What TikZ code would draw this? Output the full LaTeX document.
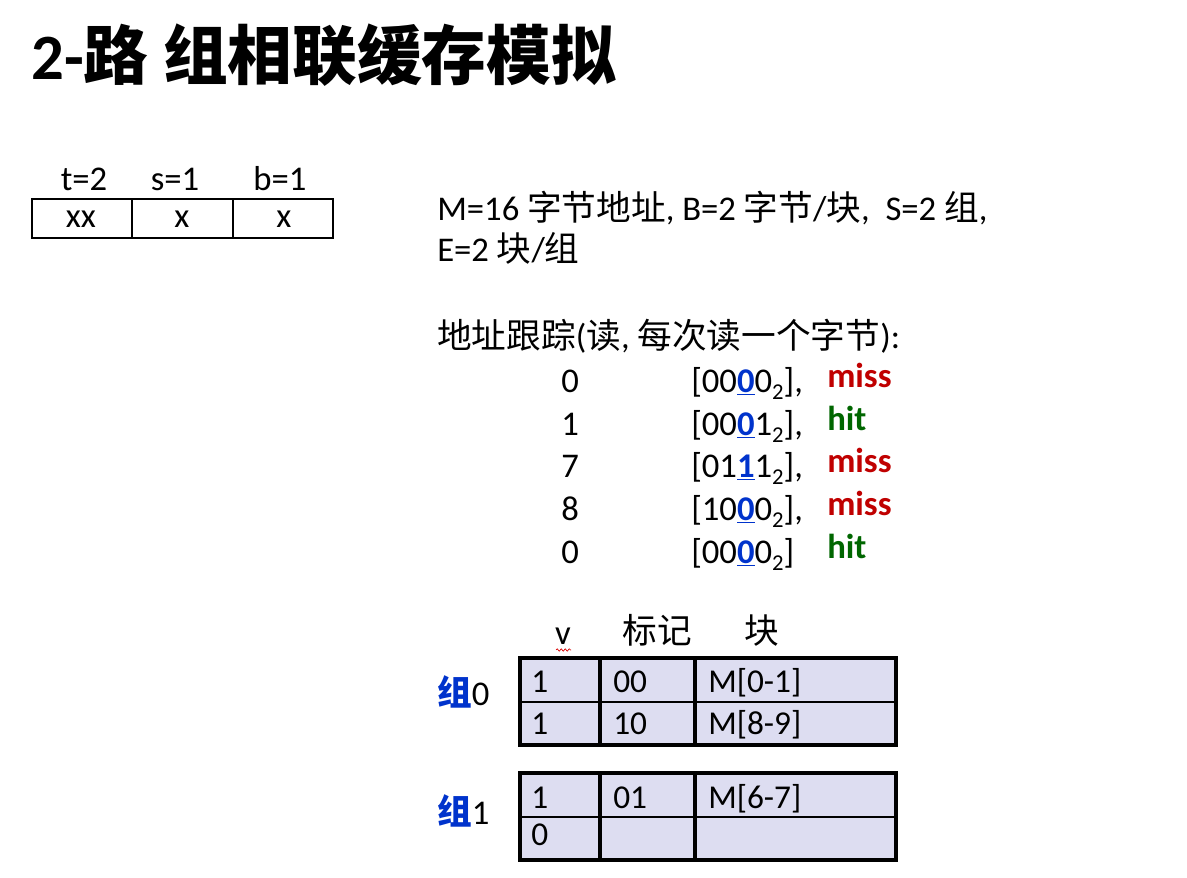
\documentclass[tikz,border=0pt]{standalone}
\usepackage{fontspec}
\setmainfont{Carlito}
\newfontfamily\cjk{Noto Sans CJK SC}
\usetikzlibrary{decorations.pathmorphing}
\definecolor{cellfill}{RGB}{221,221,241}
\definecolor{hiblue}{RGB}{0,51,204}
\definecolor{missred}{RGB}{192,0,0}
\definecolor{hitgreen}{RGB}{0,102,0}
\newcommand{\zh}[1]{{\cjk #1}}
\newcommand{\sbtwo}{\raisebox{-0.22em}{\fontsize{17}{17}\selectfont 2}}
\newcommand{\hb}[1]{\textcolor{hiblue}{\underline{\textbf{#1}}}}
\tikzset{
  txt/.style={anchor=base west, inner sep=0pt, font=\fontsize{26}{31}\selectfont},
  ctxt/.style={anchor=base, inner sep=0pt, font=\fontsize{26}{31}\selectfont},
  celltxt/.style={anchor=base west, inner sep=0pt, font=\fontsize{25}{30}\selectfont},
  titletxt/.style={anchor=base west, inner sep=0pt, font=\fontsize{48.5}{56}\selectfont\bfseries},
  boxline/.style={line width=1.6pt},
  thickline/.style={line width=2.3pt},
  thinline/.style={line width=1.3pt},
  missst/.style={txt, font=\fontsize{26}{31}\selectfont\bfseries, text=missred},
  hitst/.style={txt, font=\fontsize{26}{31}\selectfont\bfseries, text=hitgreen}
}
\begin{document}
\begin{tikzpicture}[x=0.75pt, y=-0.75pt]
\useasboundingbox (0,0) rectangle (1187,877);
\fill[white] (0,0) rectangle (1187,877);

% title
\node[titletxt] (title) at (31,80) {2-\zh{路} \zh{组相联缓存模拟}};

% address format box
\node[ctxt] (lt) at (84,191) {t=2};
\node[ctxt] (ls) at (175,191) {s=1};
\node[ctxt] (lb) at (280,191) {b=1};
\draw[boxline] (32,199) rectangle (333,238);
\draw[boxline] (132,199) -- (132,238);
\draw[boxline] (233,199) -- (233,238);
\node[ctxt] (ft) at (81,228) {xx};
\node[ctxt] (fs) at (182,228) {x};
\node[ctxt] (fb) at (284,228) {x};

% parameters
\node[txt] (p1) at (437,221) {M=16 \zh{字节地址}, B=2 \zh{字节}/\zh{块},\ \ S=2 \zh{组},};
\node[txt] (p2) at (437,261) {E=2 \zh{块}/\zh{组}};

\node[txt] (tr) at (437,348) {\zh{地址跟踪}(\zh{读}, \zh{每次读一个字节}):};

% trace
\node[txt] (a0) at (561,392) {0};
\node[txt] (b0) at (691,392) {[00\hb{0}0\sbtwo],};
\node[missst] (r0) at (827,387) {miss};
\node[txt] (a1) at (561,435) {1};
\node[txt] (b1) at (691,435) {[00\hb{0}1\sbtwo],};
\node[hitst] (r1) at (827,430) {hit};
\node[txt] (a2) at (561,477) {7};
\node[txt] (b2) at (691,477) {[01\hb{1}1\sbtwo],};
\node[missst] (r2) at (827,472) {miss};
\node[txt] (a3) at (561,520) {8};
\node[txt] (b3) at (691,520) {[10\hb{0}0\sbtwo],};
\node[missst] (r3) at (827,515) {miss};
\node[txt] (a4) at (561,563) {0};
\node[txt] (b4) at (691,563) {[00\hb{0}0\sbtwo]};
\node[hitst] (r4) at (827,558) {hit};

% headers
\node[ctxt] (hv) at (563,644) {v};
\draw[red!85!black, line width=0.5pt, decorate, decoration={snake, amplitude=0.9pt, segment length=3pt}] (556,650) -- (571,650);
\node[ctxt] (htag) at (657,643) {\zh{标记}};
\node[ctxt] (hblk) at (762,643) {\zh{块}};

% set labels
\node[txt] (s0) at (437,705) {\textcolor{hiblue}{\bfseries\zh{组}}0};
\node[txt] (s1) at (437,824) {\textcolor{hiblue}{\bfseries\zh{组}}1};

% set 0 table
\fill[cellfill] (520,658) rectangle (896,745);
\draw[thinline] (520,702) -- (896,702);
\draw[thickline] (600,658) -- (600,745);
\draw[thickline] (695,658) -- (695,745);
\draw[thickline] (520,658) rectangle (896,745);
\node[celltxt] (c00) at (531,692) {1};
\node[celltxt] (c01) at (613,692) {00};
\node[celltxt] (c02) at (708,692) {M[0-1]};
\node[celltxt] (c10) at (531,734) {1};
\node[celltxt] (c11) at (613,734) {10};
\node[celltxt] (c12) at (708,734) {M[8-9]};

% set 1 table
\fill[cellfill] (520,773) rectangle (896,860);
\draw[thinline] (520,817) -- (896,817);
\draw[thickline] (600,773) -- (600,860);
\draw[thickline] (695,773) -- (695,860);
\draw[thickline] (520,773) rectangle (896,860);
\node[celltxt] (d00) at (531,808) {1};
\node[celltxt] (d01) at (613,808) {01};
\node[celltxt] (d02) at (708,808) {M[6-7]};
\node[celltxt] (d10) at (531,845) {0};
\end{tikzpicture}
\end{document}
